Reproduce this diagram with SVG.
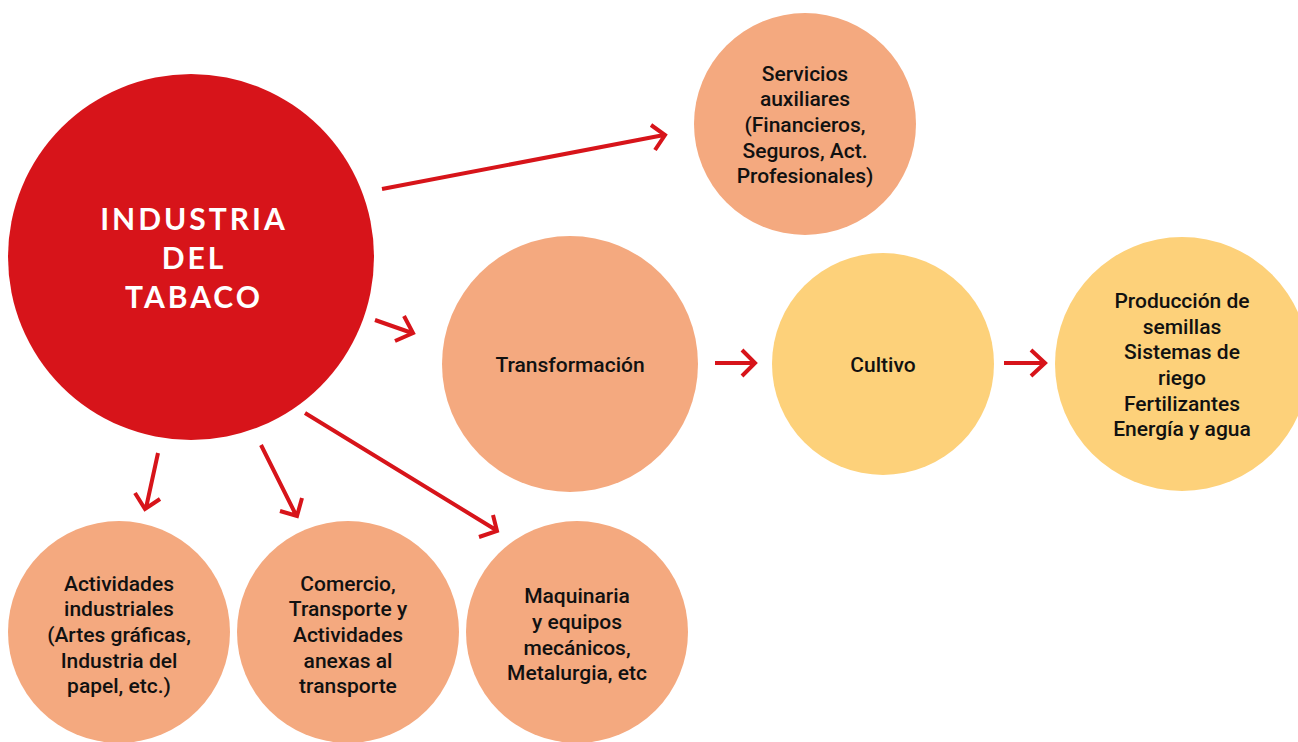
<svg xmlns="http://www.w3.org/2000/svg" width="1298" height="742" viewBox="0 0 1298 742">
<defs>
<style>
.peach{fill:#F4A97F}
.yellow{fill:#FDD17A}
.red{fill:#D7141A}
.lbl{font-family:Roboto,"Liberation Sans",sans-serif;font-weight:500;font-size:21px;fill:#111;text-anchor:middle}
.title{font-family:Lato,"Open Sans",sans-serif;font-weight:700;font-size:30px;fill:#fff;text-anchor:middle;letter-spacing:3px}
.arr{fill:none;stroke:#D7141A;stroke-width:4;stroke-linecap:butt;stroke-linejoin:miter}
</style>
</defs>
<rect width="1298" height="742" fill="#fff"/>
<g id="industria">
<circle class="red" cx="191" cy="257" r="183"/>
<text class="title"><tspan x="194" y="230">INDUSTRIA</tspan><tspan x="194" y="269">DEL</tspan><tspan x="194" y="308">TABACO</tspan></text>
</g>
<g id="servicios">
<circle class="peach" cx="805" cy="124" r="111"/>
<text class="lbl"><tspan x="805" y="81">Servicios</tspan><tspan x="805" y="106">auxiliares</tspan><tspan x="805" y="132">(Financieros,</tspan><tspan x="805" y="158">Seguros, Act.</tspan><tspan x="805" y="183">Profesionales)</tspan></text>
</g>
<g id="transformacion">
<circle class="peach" cx="570" cy="364" r="128"/>
<text class="lbl" x="570" y="372">Transformación</text>
</g>
<g id="cultivo">
<circle class="yellow" cx="883" cy="364" r="111"/>
<text class="lbl" x="883" y="372">Cultivo</text>
</g>
<g id="produccion">
<circle class="yellow" cx="1182" cy="364" r="127"/>
<text class="lbl"><tspan x="1182" y="308">Producción de</tspan><tspan x="1182" y="334">semillas</tspan><tspan x="1182" y="359">Sistemas de</tspan><tspan x="1182" y="385">riego</tspan><tspan x="1182" y="411">Fertilizantes</tspan><tspan x="1182" y="436">Energía y agua</tspan></text>
</g>
<g id="actividades">
<circle class="peach" cx="119" cy="632" r="111"/>
<text class="lbl"><tspan x="119" y="591">Actividades</tspan><tspan x="119" y="616">industriales</tspan><tspan x="119" y="642">(Artes gráficas,</tspan><tspan x="119" y="668">Industria del</tspan><tspan x="119" y="693">papel, etc.)</tspan></text>
</g>
<g id="comercio">
<circle class="peach" cx="348" cy="632" r="111"/>
<text class="lbl"><tspan x="348" y="591">Comercio,</tspan><tspan x="348" y="616">Transporte y</tspan><tspan x="348" y="642">Actividades</tspan><tspan x="348" y="668">anexas al</tspan><tspan x="348" y="693">transporte</tspan></text>
</g>
<g id="maquinaria">
<circle class="peach" cx="577" cy="632" r="111"/>
<text class="lbl"><tspan x="577" y="603">Maquinaria</tspan><tspan x="577" y="629">y equipos</tspan><tspan x="577" y="655">mecánicos,</tspan><tspan x="577" y="680">Metalurgia, etc</tspan></text>
</g>
<g id="connectors">
<path class="arr" d="M382 189 L664 135 M651 125 L665 135 L655 150"/>
<path class="arr" d="M375 320 L412 333 M404 316 L413 333 L395 341"/>
<path class="arr" d="M715 363 L754 363 M742 350 L755 363 L742 376"/>
<path class="arr" d="M1004 363 L1044 363 M1031 350 L1045 363 L1031 376"/>
<path class="arr" d="M158 453 L146 508 M135 493 L145 509 L160 499"/>
<path class="arr" d="M261 445 L296 515 M280 511 L297 516 L302 498"/>
<path class="arr" d="M305 413 L496 530 M493 515 L497 531 L479 537"/>
</g>
</svg>
